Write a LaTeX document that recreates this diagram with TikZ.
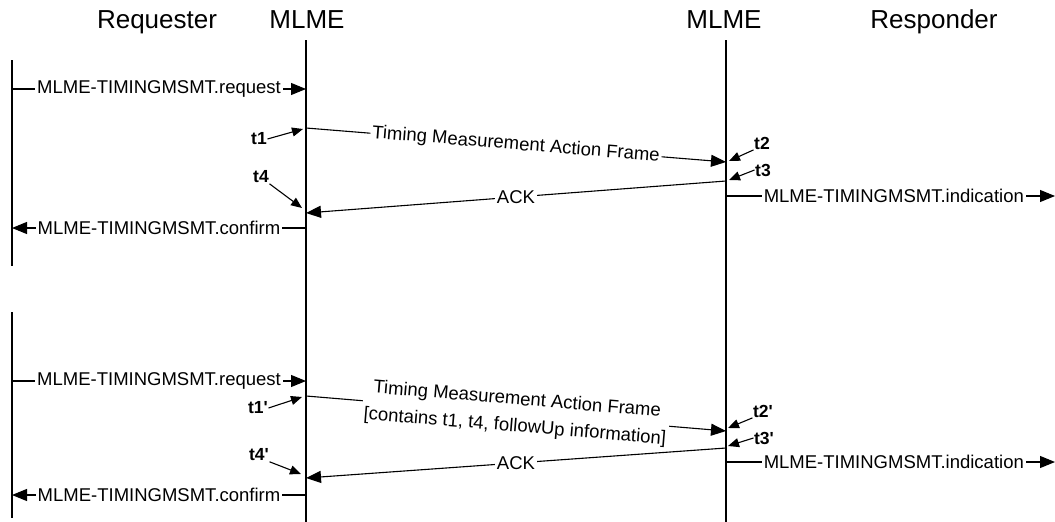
\documentclass[tikz,border=0pt]{standalone}
\usepackage{fontspec}
\setmainfont{Liberation Sans}[Ligatures=TeXOff]
\usetikzlibrary{arrows.meta}
\begin{document}
\begin{tikzpicture}[x=1pt,y=-1pt,
  head/.style={font=\fontsize{26}{30}\selectfont, anchor=base, inner sep=0pt},
  lbl/.style={font=\fontsize{18.5}{27}\selectfont, fill=white, inner sep=2pt, align=center},
  tl/.style={font=\fontsize{17.5}{20}\selectfont\bfseries, inner sep=0.5pt},
  life/.style={line width=1.1pt},
  msg/.style={line width=1.1pt, -{Triangle[length=15pt,width=12pt]}},
  tarrow/.style={line width=1.1pt, -{Triangle[length=11pt,width=9pt]}}]
\useasboundingbox (0,0) rectangle (1055,522);

% headers
\node[head] (hreq) at (157,28) {Requester};
\node[head] (hm1) at (307,28) {MLME};
\node[head] (hm2) at (724,28) {MLME};
\node[head] (hresp) at (934,28) {Responder};

% lifelines
\coordinate (r1top) at (12,60);   \coordinate (r1bot) at (12,266);
\coordinate (r2top) at (12,312);  \coordinate (r2bot) at (12,518);
\coordinate (atop) at (306,40);   \coordinate (abot) at (306,522);
\coordinate (btop) at (726,40);   \coordinate (bbot) at (726,522);
\draw[life] (r1top) -- (r1bot);
\draw[life] (r2top) -- (r2bot);
\draw[life] (atop) -- (abot);
\draw[life] (btop) -- (bbot);

% ---------- first exchange ----------
\coordinate (rq1s) at (12,89);   \coordinate (rq1e) at (306,89);
\draw[msg] (rq1s) -- (rq1e) node[midway, lbl] {MLME-TIMINGMSMT.request};

\coordinate (f1s) at (306,128);  \coordinate (f1e) at (726,162);
\draw[msg] (f1s) -- (f1e) node[midway, sloped, lbl] {Timing Measurement Action Frame};

\coordinate (k1s) at (726,181);  \coordinate (k1e) at (306,213);
\draw[msg] (k1s) -- (k1e) node[midway, lbl] {ACK};

\coordinate (in1s) at (726,196); \coordinate (in1e) at (1055,196);
\draw[msg] (in1s) -- (in1e) node[pos=0.51, lbl] {MLME-TIMINGMSMT.indication};

\coordinate (cf1s) at (306,228); \coordinate (cf1e) at (12,228);
\draw[msg] (cf1s) -- (cf1e) node[midway, lbl] {MLME-TIMINGMSMT.confirm};

\node[tl] (t1) at (259,139) {t1};
\node[tl] (t4) at (261,177) {t4};
\node[tl] (t2) at (762,143) {t2};
\node[tl] (t3) at (763,170) {t3};
\coordinate (t1p) at (303,129);
\coordinate (t4p) at (302,208);
\coordinate (t2p) at (729,161);
\coordinate (t3p) at (729,180);
\draw[tarrow] (t1.east) -- (t1p);
\draw[tarrow] (t4.south east) -- (t4p);
\draw[tarrow] (t2.south west) -- (t2p);
\draw[tarrow] (t3.west) -- (t3p);

% ---------- second exchange ----------
\coordinate (rq2s) at (12,381);  \coordinate (rq2e) at (306,381);
\draw[msg] (rq2s) -- (rq2e) node[midway, lbl] {MLME-TIMINGMSMT.request};

\coordinate (f2s) at (306,396);  \coordinate (f2e) at (726,431);
\draw[msg] (f2s) -- (f2e) node[midway, sloped, lbl] {Timing Measurement Action Frame\\{}{[contains t1, t4, followUp information]}};

\coordinate (k2s) at (726,448);  \coordinate (k2e) at (306,478);
\draw[msg] (k2s) -- (k2e) node[midway, lbl] {ACK};

\coordinate (in2s) at (726,462); \coordinate (in2e) at (1055,462);
\draw[msg] (in2s) -- (in2e) node[pos=0.51, lbl] {MLME-TIMINGMSMT.indication};

\coordinate (cf2s) at (306,495); \coordinate (cf2e) at (12,495);
\draw[msg] (cf2s) -- (cf2e) node[midway, lbl] {MLME-TIMINGMSMT.confirm};

\node[tl] (t1b) at (258,408) {t1'};
\node[tl] (t4b) at (259,455) {t4'};
\node[tl] (t2b) at (763,411) {t2'};
\node[tl] (t3b) at (764,438) {t3'};
\coordinate (t1bp) at (302,397);
\coordinate (t4bp) at (301,474);
\coordinate (t2bp) at (728,428);
\coordinate (t3bp) at (728,446);
\draw[tarrow] (t1b.east) -- (t1bp);
\draw[tarrow] (t4b.south east) -- (t4bp);
\draw[tarrow] (t2b.south west) -- (t2bp);
\draw[tarrow] (t3b.west) -- (t3bp);
\end{tikzpicture}
\end{document}
